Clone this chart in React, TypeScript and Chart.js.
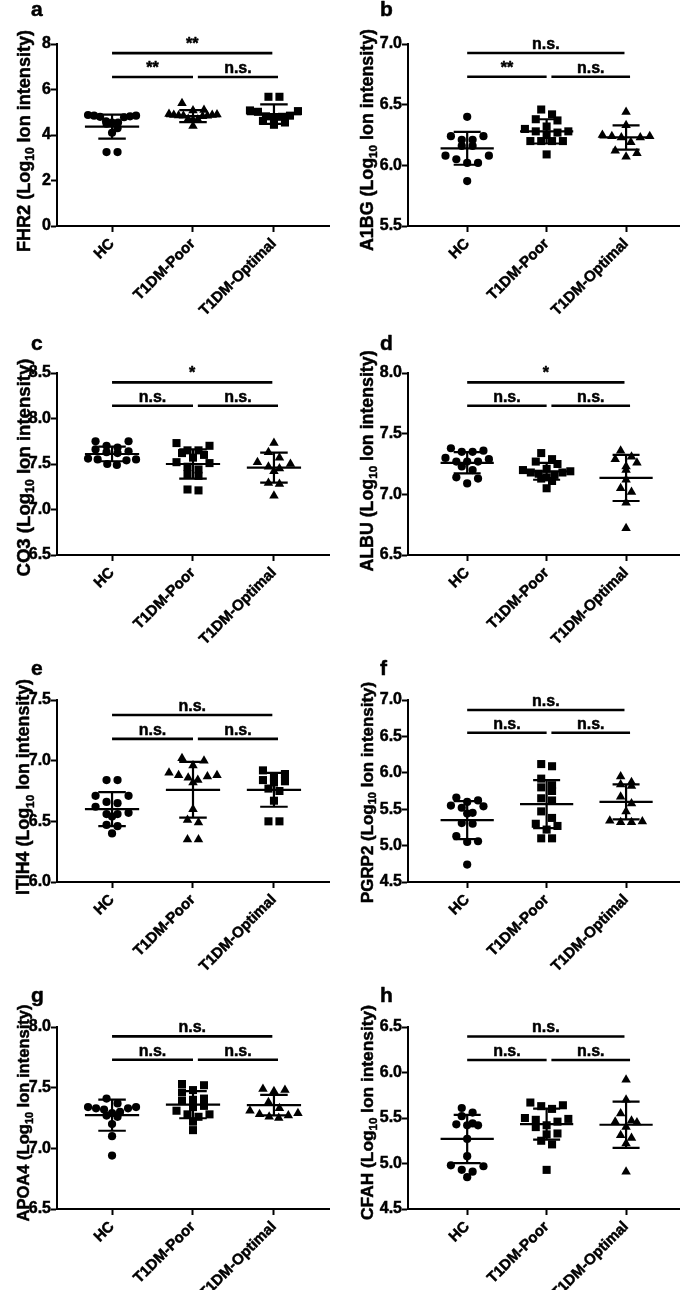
import React, { useEffect, useRef } from 'react';
import { Chart, registerables } from 'chart.js';
Chart.register(...registerables);

// ---------- data ----------
const categories = ['HC', 'T1DM-Poor', 'T1DM-Optimal'];

// a — FHR2
const fhr2HC = [4.88, 4.85, 4.85, 4.82, 4.80, 4.78, 4.60, 4.55, 4.55, 4.50, 4.30, 4.10, 3.25, 3.25];
const fhr2Poor = [5.40, 5.10, 5.08, 4.92, 4.90, 4.88, 4.88, 4.86, 4.85, 4.85, 4.82, 4.70, 4.68, 4.66, 4.40];
const fhr2Opt = [5.68, 5.68, 5.08, 5.05, 5.02, 4.85, 4.82, 4.80, 4.78, 4.62, 4.55, 4.45];
const fhr2Mean = [4.37, 4.83, 4.92];
const fhr2SD = [0.53, 0.26, 0.43];
const fhr2Ticks = [0, 2, 4, 6, 8];
const fhr2SigY = [7.6, 6.55];
const fhr2Sig = ['**', '**', 'n.s.'];

// b — A1BG
const a1bgHC = [6.40, 6.24, 6.24, 6.21, 6.21, 6.16, 6.16, 6.08, 6.08, 6.05, 6.02, 6.02, 5.87];
const a1bgPoor = [6.46, 6.42, 6.38, 6.37, 6.32, 6.30, 6.28, 6.28, 6.27, 6.25, 6.20, 6.20, 6.20, 6.20, 6.09];
const a1bgOpt = [6.44, 6.33, 6.25, 6.24, 6.24, 6.23, 6.23, 6.19, 6.12, 6.10, 6.07];
const a1bgMean = [6.14, 6.28, 6.23];
const a1bgSD = [0.135, 0.10, 0.10];
const a1bgTicks = [5.5, 6.0, 6.5, 7.0];
const a1bgSigY = [6.926, 6.73];
const a1bgSig = ['n.s.', '**', 'n.s.'];

// c — CO3
const co3HC = [7.75, 7.75, 7.70, 7.68, 7.66, 7.64, 7.63, 7.62, 7.56, 7.55, 7.55, 7.54, 7.50, 7.49];
const co3Poor = [7.73, 7.70, 7.65, 7.65, 7.62, 7.60, 7.57, 7.52, 7.51, 7.47, 7.44, 7.39, 7.37, 7.22, 7.21];
const co3Opt = [7.73, 7.63, 7.57, 7.52, 7.50, 7.47, 7.45, 7.42, 7.29, 7.28, 7.15];
const co3Mean = [7.61, 7.50, 7.46];
const co3SD = [0.08, 0.16, 0.165];
const co3Ticks = [6.5, 7.0, 7.5, 8.0, 8.5];
const co3SigY = [8.397, 8.14];
const co3Sig = ['*', 'n.s.', 'n.s.'];

// d — ALBU
const albuHC = [7.38, 7.36, 7.35, 7.35, 7.30, 7.29, 7.27, 7.27, 7.27, 7.23, 7.20, 7.14, 7.13, 7.09];
const albuPoor = [7.34, 7.29, 7.27, 7.25, 7.21, 7.20, 7.19, 7.18, 7.18, 7.17, 7.16, 7.14, 7.13, 7.11, 7.05];
const albuOpt = [7.36, 7.31, 7.29, 7.26, 7.23, 7.20, 7.12, 7.05, 7.02, 6.93, 6.72];
const albuMean = [7.26, 7.19, 7.135];
const albuSD = [0.088, 0.07, 0.19];
const albuTicks = [6.5, 7.0, 7.5, 8.0];
const albuSigY = [7.923, 7.73];
const albuSig = ['*', 'n.s.', 'n.s.'];

// e — ITIH4
const itih4HC = [6.84, 6.84, 6.71, 6.71, 6.66, 6.65, 6.62, 6.57, 6.56, 6.56, 6.54, 6.47, 6.46, 6.40];
const itih4Poor = [7.02, 7.00, 6.96, 6.90, 6.88, 6.88, 6.87, 6.86, 6.84, 6.82, 6.60, 6.51, 6.49, 6.35, 6.35];
const itih4Opt = [6.92, 6.89, 6.86, 6.84, 6.83, 6.82, 6.77, 6.75, 6.67, 6.50, 6.50];
const itih4Mean = [6.60, 6.76, 6.76];
const itih4SD = [0.14, 0.23, 0.14];
const itih4Ticks = [6.0, 6.5, 7.0, 7.5];
const itih4SigY = [7.376, 7.18];
const itih4Sig = ['n.s.', 'n.s.', 'n.s.'];

// f — PGRP2
const pgrp2HC = [5.66, 5.62, 5.60, 5.55, 5.54, 5.52, 5.45, 5.44, 5.31, 5.30, 5.13, 5.06, 5.05, 4.74];
const pgrp2Poor = [6.12, 6.09, 5.92, 5.83, 5.80, 5.75, 5.65, 5.62, 5.47, 5.38, 5.30, 5.27, 5.22, 5.10, 5.10];
const pgrp2Opt = [5.95, 5.87, 5.84, 5.82, 5.67, 5.58, 5.47, 5.34, 5.33, 5.32, 5.32];
const pgrp2Mean = [5.35, 5.57, 5.60];
const pgrp2SD = [0.26, 0.33, 0.24];
const pgrp2Ticks = [4.5, 5.0, 5.5, 6.0, 6.5, 7.0];
const pgrp2SigY = [6.862, 6.55];
const pgrp2Sig = ['n.s.', 'n.s.', 'n.s.'];

// g — APOA4
const apoa4HC = [7.41, 7.37, 7.34, 7.34, 7.33, 7.33, 7.32, 7.30, 7.29, 7.27, 7.26, 7.20, 7.10, 6.94];
const apoa4Poor = [7.53, 7.52, 7.48, 7.46, 7.41, 7.40, 7.39, 7.35, 7.34, 7.31, 7.28, 7.28, 7.26, 7.22, 7.15];
const apoa4Opt = [7.49, 7.48, 7.47, 7.38, 7.33, 7.31, 7.29, 7.28, 7.27, 7.26, 7.25];
const apoa4Mean = [7.273, 7.36, 7.356];
const apoa4SD = [0.128, 0.112, 0.085];
const apoa4Ticks = [6.5, 7.0, 7.5, 8.0];
const apoa4SigY = [7.923, 7.73];
const apoa4Sig = ['n.s.', 'n.s.', 'n.s.'];

// h — CFAH
const cfahHC = [5.61, 5.56, 5.52, 5.44, 5.43, 5.42, 5.42, 5.27, 5.08, 4.98, 4.97, 4.93, 4.91, 4.85];
const cfahPoor = [5.67, 5.64, 5.63, 5.60, 5.50, 5.49, 5.48, 5.46, 5.42, 5.40, 5.33, 5.32, 5.25, 5.21, 4.93];
const cfahOpt = [5.92, 5.70, 5.55, 5.47, 5.46, 5.45, 5.40, 5.31, 5.28, 5.22, 4.91];
const cfahMean = [5.27, 5.433, 5.426];
const cfahSD = [0.265, 0.17, 0.255];
const cfahTicks = [4.5, 5.0, 5.5, 6.0, 6.5];
const cfahSigY = [6.396, 6.137];
const cfahSig = ['n.s.', 'n.s.', 'n.s.'];

type Panel = {
  letter: string; protein: string; groups: number[][]; markers: string[];
  mean: number[]; sd: number[]; ticks: number[]; sigY: number[]; sig: string[]; digits: number;
};

const panels: Panel[] = [
  { letter: 'a', protein: 'FHR2', groups: [fhr2HC, fhr2Poor, fhr2Opt], markers: ['circle', 'triangle', 'rect'], mean: fhr2Mean, sd: fhr2SD, ticks: fhr2Ticks, sigY: fhr2SigY, sig: fhr2Sig, digits: 0 },
  { letter: 'b', protein: 'A1BG', groups: [a1bgHC, a1bgPoor, a1bgOpt], markers: ['circle', 'rect', 'triangle'], mean: a1bgMean, sd: a1bgSD, ticks: a1bgTicks, sigY: a1bgSigY, sig: a1bgSig, digits: 1 },
  { letter: 'c', protein: 'CO3', groups: [co3HC, co3Poor, co3Opt], markers: ['circle', 'rect', 'triangle'], mean: co3Mean, sd: co3SD, ticks: co3Ticks, sigY: co3SigY, sig: co3Sig, digits: 1 },
  { letter: 'd', protein: 'ALBU', groups: [albuHC, albuPoor, albuOpt], markers: ['circle', 'rect', 'triangle'], mean: albuMean, sd: albuSD, ticks: albuTicks, sigY: albuSigY, sig: albuSig, digits: 1 },
  { letter: 'e', protein: 'ITIH4', groups: [itih4HC, itih4Poor, itih4Opt], markers: ['circle', 'triangle', 'rect'], mean: itih4Mean, sd: itih4SD, ticks: itih4Ticks, sigY: itih4SigY, sig: itih4Sig, digits: 1 },
  { letter: 'f', protein: 'PGRP2', groups: [pgrp2HC, pgrp2Poor, pgrp2Opt], markers: ['circle', 'rect', 'triangle'], mean: pgrp2Mean, sd: pgrp2SD, ticks: pgrp2Ticks, sigY: pgrp2SigY, sig: pgrp2Sig, digits: 1 },
  { letter: 'g', protein: 'APOA4', groups: [apoa4HC, apoa4Poor, apoa4Opt], markers: ['circle', 'rect', 'triangle'], mean: apoa4Mean, sd: apoa4SD, ticks: apoa4Ticks, sigY: apoa4SigY, sig: apoa4Sig, digits: 1 },
  { letter: 'h', protein: 'CFAH', groups: [cfahHC, cfahPoor, cfahOpt], markers: ['circle', 'rect', 'triangle'], mean: cfahMean, sd: cfahSD, ticks: cfahTicks, sigY: cfahSigY, sig: cfahSig, digits: 1 },
];

// ---------- layout & style ----------
const FONT = '"Liberation Sans", Arial, Helvetica, sans-serif';
const COL_LEFT = [0, 340];
const COL_W = [340, 345];
const AXIS_X = [57, 68];
const PAD_RIGHT = [11, 2];
const X_RANGE = [[0.32, 3.68], [0.255, 3.67]];
const ROW_TOP = [0, 329, 656, 983];
const ROW_H = [325, 325, 325, 307];
const PLOT_TOP = 44;
const PLOT_H = 182;
const TITLE_X = [23, 26.5];
// per-panel title placement (length in px along the axis, centre shift from the plot centre)
const TITLE_LEN = [222, 222, 218, 221, 216, 221, 217, 215];
const TITLE_SHIFT = [6, 5, 3.5, -3, -4, 1.5, -5, -5.5];
const TITLE_PX = 17.3;
const LETTER_X = [31, 40];
const LETTER_BASE = [16, 350, 675, 1002];
const MEAN_HALF = 0.335;
const CAP_HALF = 0.17;
const SIG_BARS = [[1, 2.98], [1, 2], [2.06, 3.05]];
const RADIUS: Record<string, number> = { circle: 4.1, rect: 5.7, triangle: 5.5 };
const BIN_PX = 8;
const GAP_PX = 11;
const MAX_HALF_PX = 24;
const STROKE = 0.5;

// column-scatter layout: points with nearly equal values share a row and are spread sideways
function swarm(values: number[], center: number, pxY: number, pxX: number) {
  const order = values.map((_, i) => i).sort((a, b) => values[b] - values[a]);
  const rows: number[][] = [];
  let cur: number[] = [];
  let top = 0;
  for (const i of order) {
    const yp = values[i] * pxY;
    if (cur.length && top - yp >= BIN_PX) { rows.push(cur); cur = []; }
    if (!cur.length) top = yp;
    cur.push(i);
  }
  if (cur.length) rows.push(cur);
  const out: { x: number; y: number }[] = new Array(values.length);
  for (const r of rows) {
    const n = r.length;
    const sp = n > 1 ? Math.min(GAP_PX, (2 * MAX_HALF_PX) / (n - 1)) : 0;
    const slots: number[] = [];
    for (let a = 0, b = n - 1; a <= b; a++, b--) { slots.push(a); if (a !== b) slots.push(b); }
    r.forEach((i, k) => {
      const slot = slots[k];
      out[i] = { x: center + ((slot - (n - 1) / 2) * sp) / pxX, y: values[i] };
    });
  }
  return out;
}

function boldText(ctx: CanvasRenderingContext2D, t: string, x: number, y: number) {
  ctx.strokeText(t, x, y);
  ctx.fillText(t, x, y);
}

function PanelChart({ p, idx }: { p: Panel; idx: number }) {
  const ref = useRef<HTMLCanvasElement>(null);
  const col = idx % 2;
  const row = Math.floor(idx / 2);
  const W = COL_W[col];
  const H = ROW_H[row];
  useEffect(() => {
    const yMin = p.ticks[0];
    const yMax = p.ticks[p.ticks.length - 1];
    const [xMin, xMax] = X_RANGE[col];
    const plotW = W - AXIS_X[col] - PAD_RIGHT[col];
    const pxY = PLOT_H / (yMax - yMin);
    const pxX = plotW / (xMax - xMin);

    const datasets: any[] = [];
    p.groups.forEach((vals, gi) => {
      const st = p.markers[gi];
      datasets.push({
        type: 'scatter',
        data: swarm(vals, gi + 1, pxY, pxX),
        pointStyle: st,
        pointRadius: RADIUS[st],
        pointHoverRadius: RADIUS[st],
        backgroundColor: '#000',
        borderColor: '#000',
        borderWidth: 0,
        showLine: false,
        clip: false,
      });
    });
    const err: any[] = [];
    p.mean.forEach((m, gi) => {
      const c = gi + 1;
      const s = p.sd[gi];
      err.push(
        { x: c - MEAN_HALF, y: m }, { x: c + MEAN_HALF, y: m }, { x: c, y: null },
        { x: c - CAP_HALF, y: m + s }, { x: c + CAP_HALF, y: m + s }, { x: c, y: null },
        { x: c - CAP_HALF, y: m - s }, { x: c + CAP_HALF, y: m - s }, { x: c, y: null },
        { x: c, y: m - s }, { x: c, y: m + s }, { x: c, y: null },
      );
    });
    datasets.unshift({
      type: 'line', data: err, borderColor: '#000', borderWidth: 2.2, pointRadius: 0, pointHitRadius: 0,
      showLine: true, spanGaps: false, fill: false, clip: false, borderCapStyle: 'butt',
    });
    const sigData: any[] = [];
    SIG_BARS.forEach((b, i) => {
      const y = i === 0 ? p.sigY[0] : p.sigY[1];
      sigData.push({ x: b[0], y }, { x: b[1], y }, { x: b[1], y: null });
    });
    datasets.unshift({
      type: 'line', data: sigData, borderColor: '#000', borderWidth: 2.6, pointRadius: 0, pointHitRadius: 0,
      showLine: true, spanGaps: false, fill: false, clip: false, borderCapStyle: 'butt',
    });

    const textPlugin = {
      id: 'panelText',
      afterDraw(chart: any) {
        const ctx = chart.ctx as CanvasRenderingContext2D;
        const xs = chart.scales.x;
        const ys = chart.scales.y;
        ctx.save();
        ctx.fillStyle = '#000';
        ctx.strokeStyle = '#000';
        ctx.lineWidth = STROKE;
        ctx.lineJoin = 'round';
        // significance labels
        ctx.font = `bold 16px ${FONT}`;
        ctx.textAlign = 'center';
        ctx.textBaseline = 'alphabetic';
        SIG_BARS.forEach((b, i) => {
          const y = i === 0 ? p.sigY[0] : p.sigY[1];
          boldText(ctx, p.sig[i], xs.getPixelForValue((b[0] + b[1]) / 2), ys.getPixelForValue(y) - 4);
        });
        // panel letter
        ctx.font = `bold 21px ${FONT}`;
        ctx.textAlign = 'left';
        boldText(ctx, p.letter, LETTER_X[col], LETTER_BASE[row] - ROW_TOP[row]);
        // y-axis title with subscript, fitted to the measured length
        const t1 = `${p.protein} (Log`;
        const t2 = '10';
        const t3 = ' Ion intensity)';
        const measure = (bigPx: number) => {
          ctx.font = `bold ${bigPx}px ${FONT}`;
          const a = ctx.measureText(t1).width; const c = ctx.measureText(t3).width;
          ctx.font = `bold ${bigPx * 0.66}px ${FONT}`;
          const b = ctx.measureText(t2).width;
          return [a, b, c];
        };
        const m0 = measure(TITLE_PX);
        const bigPx = TITLE_PX * TITLE_LEN[idx] / (m0[0] + m0[1] + m0[2]);
        const [w1, w2, w3] = measure(bigPx);
        const total = w1 + w2 + w3;
        const big = `bold ${bigPx}px ${FONT}`;
        const small = `bold ${bigPx * 0.66}px ${FONT}`;
        const cy = PLOT_TOP + PLOT_H / 2 + TITLE_SHIFT[idx];
        ctx.translate(TITLE_X[col], cy);
        ctx.rotate(-Math.PI / 2);
        const base = bigPx * 0.36;
        let x0 = -total / 2;
        ctx.font = big; boldText(ctx, t1, x0, base); x0 += w1;
        ctx.font = small; boldText(ctx, t2, x0, base + bigPx * 0.23); x0 += w2;
        ctx.font = big; boldText(ctx, t3, x0, base);
        ctx.restore();
      },
    };

    const axisCommon = {
      grid: { display: true, drawOnChartArea: false, drawTicks: true, tickLength: 6, tickColor: '#000', tickWidth: 2 },
      border: { display: true, color: '#000', width: 2 },
    };

    const chart = new Chart(ref.current as HTMLCanvasElement, {
      type: 'scatter',
      data: { datasets },
      options: {
        animation: false,
        responsive: false,
        events: [],
        layout: { padding: { left: 0, right: PAD_RIGHT[col], top: PLOT_TOP, bottom: 0 } },
        plugins: { legend: { display: false }, tooltip: { enabled: false }, title: { display: false } },
        scales: {
          x: {
            type: 'linear', min: xMin, max: xMax,
            afterBuildTicks: (s: any) => { s.ticks = [1, 2, 3].map(v => ({ value: v })); },
            afterFit: (s: any) => { s.height = H - PLOT_TOP - PLOT_H; },
            ticks: {
              callback: (_v: any, i: number) => categories[i],
              minRotation: 45, maxRotation: 45, autoSkip: false, padding: 3,
              color: '#000', textStrokeColor: '#000', textStrokeWidth: STROKE,
              font: { family: FONT, size: 15, weight: 'bold' },
            },
            ...axisCommon,
          },
          y: {
            type: 'linear', min: yMin, max: yMax,
            afterBuildTicks: (s: any) => { s.ticks = p.ticks.map(v => ({ value: v })); },
            afterFit: (s: any) => { s.width = AXIS_X[col]; },
            ticks: {
              callback: (v: any) => Number(v).toFixed(p.digits),
              padding: 0, color: '#000', textStrokeColor: '#000', textStrokeWidth: STROKE,
              font: { family: FONT, size: 16, weight: 'bold' },
            },
            ...axisCommon,
          },
        },
      } as any,
      plugins: [textPlugin],
    } as any);
    return () => chart.destroy();
  }, []);
  return (
    <canvas
      ref={ref}
      width={W}
      height={H}
      style={{ position: 'absolute', left: COL_LEFT[col], top: ROW_TOP[row], width: W, height: H }}
    />
  );
}

export default function App() {
  return (
    <div style={{ position: 'absolute', left: 0, top: 0, width: 685, height: 1290, background: '#fff', overflow: 'hidden' }}>
      {panels.map((p, i) => <PanelChart key={p.letter} p={p} idx={i} />)}
    </div>
  );
}
